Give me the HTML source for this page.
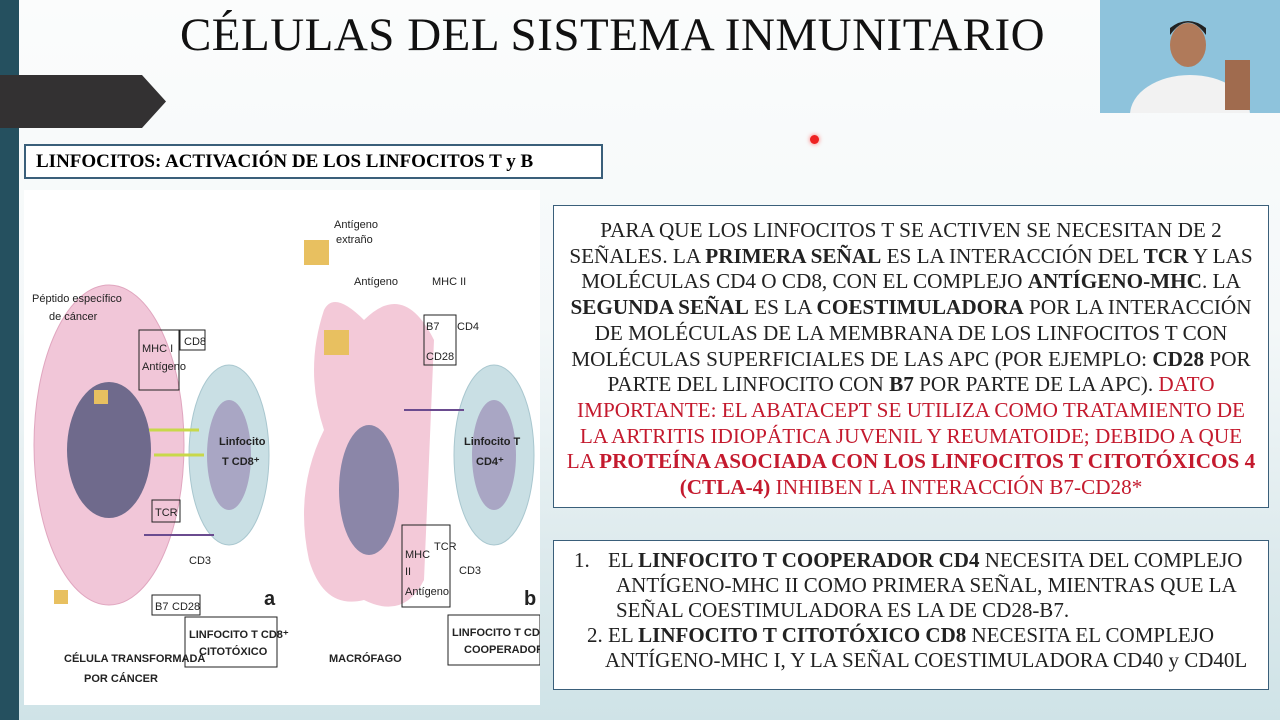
<!DOCTYPE html>
<html><head><meta charset="utf-8"><style>
body{margin:0;width:1280px;height:720px;overflow:hidden;position:relative;font-family:"Liberation Serif",serif;background:linear-gradient(#fbfcfc 0%,#f4f8f9 45%,#dbe9ec 80%,#cfe3e7 100%);}
.strip{position:absolute;left:0;top:0;width:19px;height:720px;background:#25505f;}
.title{position:absolute;left:0;width:1225px;top:8px;text-align:center;font-size:47px;color:#111;letter-spacing:0.5px}
.arrow{position:absolute;left:0;top:75px;width:166px;height:53px;background:#333132;clip-path:polygon(0 0,142px 0,166px 50%,142px 100%,0 100%);}
.cam{position:absolute;left:1100px;top:0;width:180px;height:113px;background:linear-gradient(#9ccbe0,#7fb6d3);}
.hdr{position:absolute;left:24px;top:144px;border:2px solid #3a5f7a;background:#fff;font-weight:bold;font-size:19px;line-height:31px;padding-left:10px;box-sizing:border-box;width:579px;height:35px}
.img{position:absolute;left:24px;top:190px;width:516px;height:515px;background:#fff}
.box{position:absolute;background:#fff;border:1.5px solid #3a5f7a;box-sizing:border-box;color:#222;white-space:nowrap}
.b1{left:553px;top:205px;width:716px;height:303px;text-align:center;line-height:25.7px;padding:12px 0;font-size:21.2px}
.r{color:#c41a2e}
.b2{left:553px;top:540px;width:716px;height:150px;line-height:25px;padding-top:7px;font-size:21px}
.b2 div{position:relative}
.b2 .n{position:absolute}
.dot{position:absolute;left:810px;top:135px;width:9px;height:9px;border-radius:50%;background:#e22;box-shadow:0 0 5px #f66}
</style></head><body>
<div class="strip"></div>
<div class="title">CÉLULAS DEL SISTEMA INMUNITARIO</div>
<div class="arrow"></div>
<div class="cam">
<svg width="180" height="113"><rect x="0" y="0" width="180" height="113" fill="#8ec3dc"/><ellipse cx="90" cy="115" rx="60" ry="40" fill="#f2f2f2"/><ellipse cx="88" cy="45" rx="18" ry="22" fill="#b07a5a"/><path d="M70 35 Q88 10 106 35 L106 28 Q88 14 70 28Z" fill="#222"/><rect x="125" y="60" width="25" height="50" fill="#a06b4e"/></svg>
</div>
<div class="dot"></div>
<div class="hdr">LINFOCITOS: ACTIVACIÓN DE LOS LINFOCITOS T y B</div>
<div class="img">
<svg width="516" height="515" font-family="Liberation Sans Narrow, Liberation Sans, sans-serif" font-size="11" fill="#222">
<ellipse cx="85" cy="255" rx="75" ry="160" fill="#f1c6d8" stroke="#e0a6bf"/>
<ellipse cx="85" cy="260" rx="42" ry="68" fill="#6f6a8c"/>
<ellipse cx="205" cy="265" rx="40" ry="90" fill="#c9dfe4" stroke="#a9c7cf"/>
<ellipse cx="205" cy="265" rx="22" ry="55" fill="#a9a6c4"/>
<text x="195" y="255" font-weight="bold">Linfocito</text><text x="198" y="275" font-weight="bold">T CD8⁺</text>
<path d="M300 120 Q280 180 300 240 Q270 300 285 370 Q300 420 340 410 Q380 430 400 390 L410 150 Q380 90 340 130 Q310 100 300 120Z" fill="#f3c9d8"/>
<ellipse cx="345" cy="300" rx="30" ry="65" fill="#8b86a8"/>
<ellipse cx="470" cy="265" rx="40" ry="90" fill="#c9dfe4" stroke="#a9c7cf"/>
<ellipse cx="470" cy="265" rx="22" ry="55" fill="#a9a6c4"/>
<text x="440" y="255" font-weight="bold">Linfocito T</text><text x="452" y="275" font-weight="bold">CD4⁺</text>
<g fill="none" stroke="#222"><rect x="115" y="140" width="40" height="60"/><rect x="156" y="140" width="25" height="20"/><rect x="128" y="310" width="28" height="22"/><rect x="128" y="405" width="48" height="20"/><rect x="161" y="427" width="92" height="50"/><rect x="400" y="125" width="32" height="50"/><rect x="378" y="335" width="48" height="82"/><rect x="424" y="425" width="92" height="50"/></g>
<text x="118" y="162">MHC I</text><text x="118" y="180">Antígeno</text><text x="160" y="155">CD8</text><text x="131" y="326">TCR</text><text x="131" y="420">B7</text><text x="148" y="420">CD28</text><text x="165" y="374">CD3</text>
<text x="165" y="448" font-weight="bold">LINFOCITO T CD8⁺</text><text x="175" y="465" font-weight="bold">CITOTÓXICO</text>
<text x="428" y="446" font-weight="bold">LINFOCITO T CD4⁺</text><text x="440" y="463" font-weight="bold">COOPERADOR</text>
<text x="40" y="472" font-weight="bold">CÉLULA TRANSFORMADA</text><text x="60" y="492" font-weight="bold">POR CÁNCER</text>
<text x="305" y="472" font-weight="bold">MACRÓFAGO</text>
<text x="240" y="415" font-size="20" font-weight="bold">a</text><text x="500" y="415" font-size="20" font-weight="bold">b</text>
<text x="8" y="112">Péptido específico</text><text x="25" y="130">de cáncer</text>
<text x="310" y="38">Antígeno</text><text x="312" y="53">extraño</text><text x="330" y="95">Antígeno</text><text x="408" y="95">MHC II</text>
<text x="402" y="140">B7</text><text x="433" y="140">CD4</text><text x="402" y="170">CD28</text>
<text x="381" y="368">MHC</text><text x="381" y="385">II</text><text x="381" y="405">Antígeno</text><text x="410" y="360">TCR</text><text x="435" y="384">CD3</text>
<g stroke="#6a4b8f" stroke-width="2" fill="none"><path d="M120 345 H190"/><path d="M380 220 H440"/></g>
<g stroke="#c8d84a" stroke-width="3" fill="none"><path d="M125 240 H175"/><path d="M130 265 H180"/></g>
<g fill="#e8c060"><rect x="280" y="50" width="25" height="25"/><rect x="300" y="140" width="25" height="25"/><rect x="70" y="200" width="14" height="14"/><rect x="30" y="400" width="14" height="14"/></g>
</svg>
</div>
<div class="box b1">PARA QUE LOS LINFOCITOS T SE ACTIVEN SE NECESITAN DE 2<br>SEÑALES. LA <b>PRIMERA SEÑAL</b> ES LA INTERACCIÓN DEL <b>TCR</b> Y LAS<br>MOLÉCULAS CD4 O CD8, CON EL COMPLEJO <b>ANTÍGENO-MHC</b>. LA<br><b>SEGUNDA SEÑAL</b> ES LA <b>COESTIMULADORA</b> POR LA INTERACCIÓN<br>DE MOLÉCULAS DE LA MEMBRANA DE LOS LINFOCITOS T CON<br>MOLÉCULAS SUPERFICIALES DE LAS APC (POR EJEMPLO: <b>CD28</b> POR<br>PARTE DEL LINFOCITO CON <b>B7</b> POR PARTE DE LA APC). <span class="r">DATO<br>IMPORTANTE: EL ABATACEPT SE UTILIZA COMO TRATAMIENTO DE<br>LA ARTRITIS IDIOPÁTICA JUVENIL Y REUMATOIDE; DEBIDO A QUE<br>LA <b>PROTEÍNA ASOCIADA CON LOS LINFOCITOS T CITOTÓXICOS 4</b><br><b>(CTLA-4)</b> INHIBEN LA INTERACCIÓN B7-CD28*</span></div>
<div class="box b2">
<div style="padding-left:54px"><span class="n" style="left:20px">1.</span>EL <b>LINFOCITO T COOPERADOR CD4</b> NECESITA DEL COMPLEJO</div>
<div style="padding-left:62px">ANTÍGENO-MHC II COMO PRIMERA SEÑAL, MIENTRAS QUE LA</div>
<div style="padding-left:62px">SEÑAL COESTIMULADORA ES LA DE CD28-B7.</div>
<div style="padding-left:54px"><span class="n" style="left:33px">2.</span>EL <b>LINFOCITO T CITOTÓXICO CD8</b> NECESITA EL COMPLEJO</div>
<div style="padding-left:51px">ANTÍGENO-MHC I, Y LA SEÑAL COESTIMULADORA CD40 y CD40L</div>
</div>
</body></html>
